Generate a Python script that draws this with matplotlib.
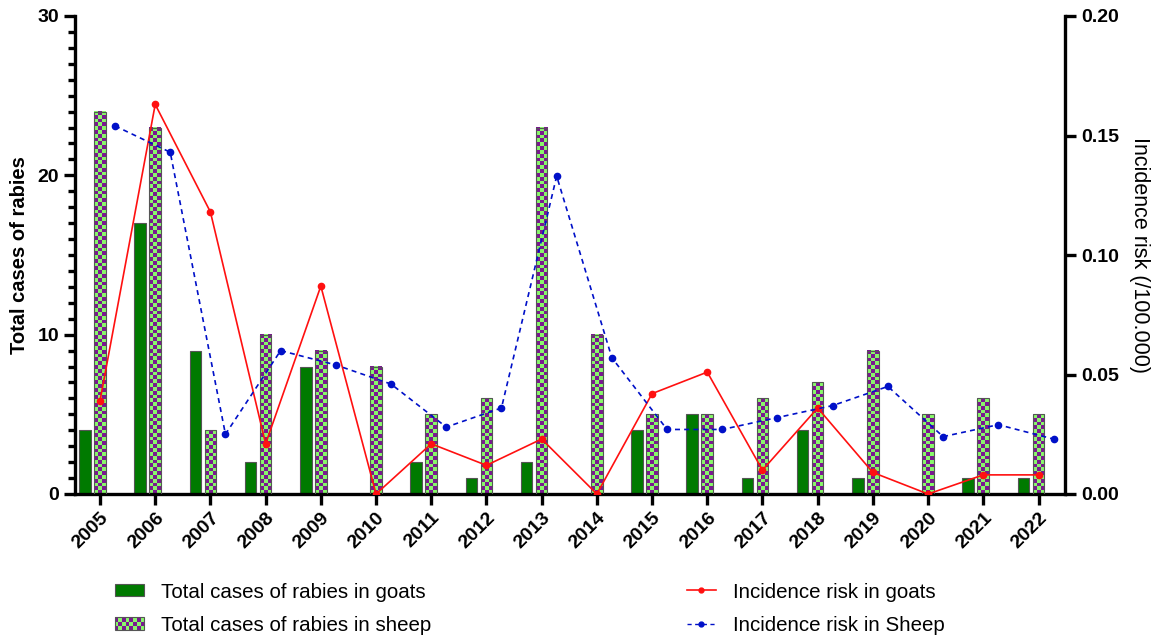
import numpy as np
import matplotlib
matplotlib.use("Agg")
import matplotlib.pyplot as plt
from matplotlib.patches import Rectangle
from matplotlib.legend_handler import HandlerBase
from matplotlib.lines import Line2D
from matplotlib.colors import ListedColormap

plt.rcParams['font.family'] = ['Liberation Sans', 'DejaVu Sans']

years = ['2005', '2006', '2007', '2008', '2009', '2010', '2011', '2012', '2013',
         '2014', '2015', '2016', '2017', '2018', '2019', '2020', '2021', '2022']
goat_cases = [4, 17, 9, 2, 8, 0, 2, 1, 2, 0, 4, 5, 1, 4, 1, 0, 1, 1]
sheep_cases = [24, 23, 4, 10, 9, 8, 5, 6, 23, 10, 5, 5, 6, 7, 9, 5, 6, 5]
goat_risk = [0.039, 0.163, 0.118, 0.021, 0.087, 0.0, 0.021, 0.012, 0.023, 0.0,
             0.042, 0.051, 0.010, 0.036, 0.009, 0.0, 0.008, 0.008]
sheep_risk = [0.154, 0.143, 0.025, 0.060, 0.054, 0.046, 0.028, 0.036, 0.133, 0.057,
              0.027, 0.027, 0.032, 0.037, 0.045, 0.024, 0.029, 0.023]

GOAT_GREEN = '#007A00'
CHK_PURPLE = '#7A1890'
CHK_GREEN = '#88F86A'
EDGE = '#555555'

fig = plt.figure(figsize=(11.61, 6.36), dpi=100)
ax = fig.add_axes([75/1161, 1-494/636, (1065-75)/1161, (494-16)/636])
ax2 = ax.twinx()

x = np.arange(len(years))
off = 0.272
bw = 0.21

ax.bar(x - off, goat_cases, width=bw, color=GOAT_GREEN, edgecolor=EDGE, linewidth=0.8, zorder=2)

ylim_left = 30
ax_h_px = 478
cell_px = 3.8
cmap = ListedColormap([CHK_GREEN, CHK_PURPLE])
for xi, h in zip(x, sheep_cases):
    if h <= 0:
        continue
    nrows = max(1, int(round(h * ax_h_px / ylim_left / cell_px)))
    ncols = 3
    img = (np.add.outer(np.arange(nrows), np.arange(ncols)) % 2)
    ax.imshow(img, cmap=cmap, extent=(xi - bw/2, xi + bw/2, 0, h), aspect='auto',
              interpolation='none', origin='lower', zorder=2)
    ax.add_patch(Rectangle((xi - bw/2, 0), bw, h, facecolor='none', edgecolor=EDGE,
                           linewidth=0.8, zorder=3))

ax.set_xlim(-0.453, 17.48)
ax.set_ylim(0, 30)
ax.set_yticks([0, 10, 20, 30])
ax.set_yticks(np.arange(0, 31, 1), minor=True)
ax.set_xticks(x)
ax.set_xticklabels(years, rotation=45, ha='right', va='top', rotation_mode='anchor',
                   fontsize=14, fontweight='bold')
for lab in ax.get_yticklabels():
    lab.set_fontweight('bold')
    lab.set_fontsize(14)
ax.set_ylabel('Total cases of rabies', fontsize=14.5, fontweight='bold', labelpad=6)

ax2.plot(x, goat_risk, color='#FF1010', linewidth=1.2, marker='o', markersize=4.5,
         label='Incidence risk in goats', zorder=4)
ax2.plot(x + off, sheep_risk, color='#0010C8', linewidth=1.2, linestyle=(0, (3, 2.5)),
         marker='o', markersize=4.5, label='Incidence risk in Sheep', zorder=4)
ax2.set_ylim(0, 0.20)
ax2.set_yticks([0.0, 0.05, 0.10, 0.15, 0.20])
ax2.set_yticklabels(['0.00', '0.05', '0.10', '0.15', '0.20'], fontsize=14, fontweight='bold')
ax2.set_ylabel('Incidence risk (/100.000)', fontsize=15.5, rotation=270, labelpad=22)

for a in (ax, ax2):
    a.spines['top'].set_visible(False)
    for s in ('left', 'right', 'bottom'):
        a.spines[s].set_linewidth(2.4)
ax.spines['right'].set_visible(False)
ax2.spines['left'].set_visible(False)
ax2.spines['bottom'].set_visible(False)
ax.tick_params(axis='both', which='major', width=2.4, length=8, direction='out')
ax.tick_params(axis='y', which='minor', width=2.4, length=5, direction='out')
ax.tick_params(axis='x', which='minor', bottom=False)
ax.tick_params(axis='x', pad=3)
ax2.tick_params(axis='y', which='major', width=2.4, length=8, direction='out')


class CheckerHandler(HandlerBase):
    def create_artists(self, legend, orig_handle, xdescent, ydescent, width, height,
                       fontsize, trans):
        arts = []
        nc, nr = 8, 3
        cw, ch = width / nc, height / nr
        for i in range(nc):
            for j in range(nr):
                c = CHK_PURPLE if (i + j) % 2 == 0 else CHK_GREEN
                arts.append(Rectangle((-xdescent + i*cw, -ydescent + j*ch), cw, ch,
                                      facecolor=c, edgecolor='none', transform=trans))
        arts.append(Rectangle((-xdescent, -ydescent), width, height, facecolor='none',
                              edgecolor=EDGE, linewidth=0.8, transform=trans))
        return arts


goat_h = Rectangle((0, 0), 1, 1, facecolor=GOAT_GREEN, edgecolor=EDGE, linewidth=0.8)
sheep_h = Rectangle((0, 0), 1, 1)
leg1 = fig.legend([goat_h, sheep_h],
                  ['Total cases of rabies in goats', 'Total cases of rabies in sheep'],
                  handler_map={sheep_h: CheckerHandler()},
                  loc='upper left', bbox_to_anchor=(96/1161, 1-564/636),
                  frameon=False, fontsize=14.8, handlelength=1.45, handleheight=0.55,
                  handletextpad=0.8, labelspacing=0.7)
l1 = Line2D([], [], color='#FF1010', linewidth=1.2, marker='o', markersize=3.5)
l2 = Line2D([], [], color='#0010C8', linewidth=1.0, linestyle=(0, (3, 2.5)), marker='o', markersize=3.5)
leg2 = fig.legend([l1, l2], ['Incidence risk in goats', 'Incidence risk in Sheep'],
                  loc='upper left', bbox_to_anchor=(668/1161, 1-564/636),
                  frameon=False, fontsize=14.8, handlelength=1.45,
                  handletextpad=0.8, labelspacing=0.7)

fig.savefig('out.png', dpi=100)
